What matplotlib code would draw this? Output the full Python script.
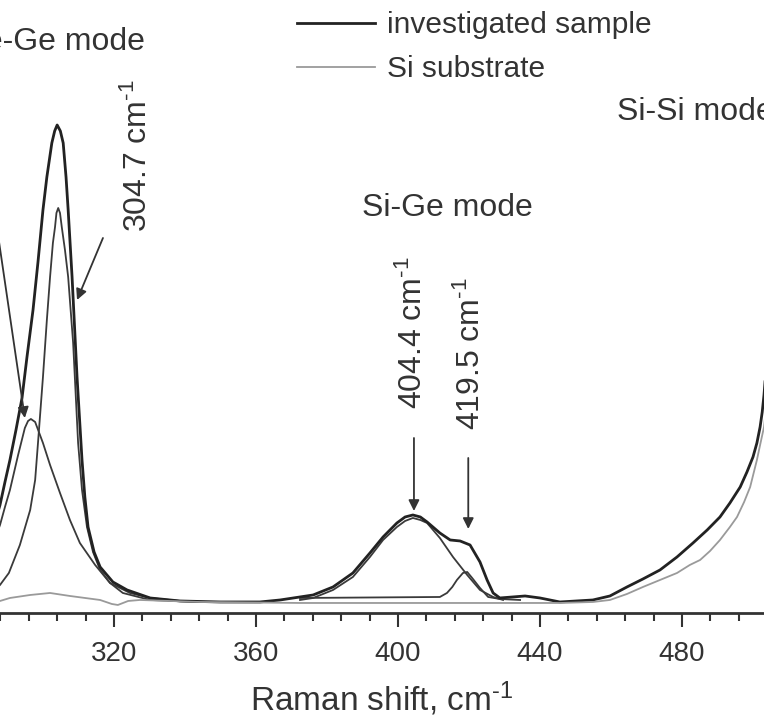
import matplotlib
matplotlib.use("Agg")
import matplotlib.pyplot as plt
from matplotlib.ticker import MultipleLocator

plt.rcParams['font.family'] = ['Liberation Sans', 'DejaVu Sans']
plt.rcParams['mathtext.fontset'] = 'custom'
plt.rcParams['mathtext.rm'] = 'Liberation Sans'
plt.rcParams['mathtext.it'] = 'Liberation Sans'
plt.rcParams['mathtext.bf'] = 'Liberation Sans'

# ---- data (Raman shift in cm^-1, intensity in a.u.) ----
sample_x = [286.0, 287.9, 289.3, 290.7, 292.4, 294.1, 295.5, 297.2, 298.6, 300.0, 301.1,
            302.5, 303.3, 304.0, 304.9, 305.7, 306.5, 307.1, 308.2, 309.6, 311.0,
            311.8, 312.7, 314.4, 316.1, 319.7, 323.7, 330.2, 338.6, 349.9, 361.1,
            366.8, 376.1, 381.7, 387.3, 392.1, 395.8, 399.7, 402.0, 404.2, 406.3, 408.2, 411.8,
            414.7, 417.5, 420.3, 423.1, 425.1, 426.8, 428.7, 435.8, 440.0, 445.6,
            454.9, 459.7, 464.5, 469.0, 473.8, 478.6, 483.1, 487.1, 490.7, 493.5,
            496.4, 498.3, 500.0, 501.1, 502.0, 502.6, 503.1, 504.0]
sample_y = [85, 108, 131, 153, 183, 215, 256, 303, 351, 403, 436,
            470, 482, 488, 482, 470, 436, 403, 336, 236, 153,
            116, 86, 61, 46, 31, 23, 15, 12, 11, 11,
            13, 18, 26, 40, 60, 76, 90, 96, 98, 96, 91, 80,
            73, 72, 68, 51, 33, 20, 15, 17, 15, 11,
            13, 17, 26, 34, 43, 56, 70, 83, 96, 110,
            126, 141, 156, 170, 186, 201, 218, 260]

substrate_x = [286.0, 287.9, 290.7, 296.4, 302.0, 307.6, 316.1, 319.4, 321.1, 324.0, 327.3,
               344.2, 372.4, 400.6, 428.7, 445.6, 454.9, 459.7, 464.5, 469.0, 473.8,
               478.6, 482.2, 485.1, 487.9, 490.7, 493.5, 495.5, 497.5, 499.2, 501.1,
               502.0, 503.1, 504.0]
substrate_y = [11, 12, 15, 18, 20, 17, 13, 9, 8, 12, 13,
               11, 10, 10, 10, 10, 11, 13, 19, 26, 33,
               40, 48, 53, 62, 73, 86, 96, 111, 126, 153,
               168, 186, 215]

peak3047_x = [286.0, 287.9, 290.4, 293.5, 296.4, 297.8, 298.6, 300.0, 301.1, 302.0,
              302.8, 303.4, 303.8, 304.3, 304.8, 305.3, 306.2, 307.1, 308.5, 309.9,
              311.0, 312.4, 314.1, 316.1, 318.9, 322.5, 330.2, 344.2]
peak3047_y = [22, 28, 40, 68, 103, 133, 170, 236, 293, 336,
              370, 386, 400, 405, 400, 386, 363, 336, 270, 170,
              123, 86, 61, 43, 30, 20, 13, 11]

peak297_x = [286.0, 287.9, 289.3, 290.7, 293.0, 294.9, 295.8, 296.6, 297.8, 300.0,
             302.0, 304.8, 307.6, 310.4, 314.7, 318.9, 324.5, 330.2, 338.6]
peak297_y = [70, 88, 106, 123, 158, 185, 192, 194, 191, 170,
             148, 120, 93, 70, 48, 30, 20, 15, 12]

peak4044_x = [372.4, 376.1, 381.7, 387.3, 392.1, 395.8, 399.7, 402.0, 404.2, 406.3, 408.2,
              411.8, 415.5, 419.5, 423.1, 426.8, 429.6]
peak4044_y = [13, 15, 23, 36, 56, 73, 86, 92, 95, 93, 90,
              75, 56, 38, 23, 16, 13]

peak4195_x = [372.4, 411.8, 413.8, 415.3, 416.6, 418.3, 419.5, 420.9, 423.1, 425.4, 428.7,
              434.4]
peak4195_y = [15, 16, 20, 26, 33, 40, 41, 35, 25, 16, 14, 13]

x_ticks = [320, 360, 400, 440, 480]

# ---- figure ----
fig = plt.figure(figsize=(7.64, 7.22), dpi=100)
ax = fig.add_axes([0.0, 0.151, 1.0, 0.849])
ax.set_xlim(287.9, 503.1)
ax.set_ylim(0, 613)

comp_kw = dict(color='#3a3a3a', lw=1.3, solid_joinstyle='round')
ax.plot(peak297_x, peak297_y, **comp_kw)
ax.plot(peak3047_x, peak3047_y, **comp_kw)
ax.plot(peak4044_x, peak4044_y, **comp_kw)
ax.plot(peak4195_x, peak4195_y, **comp_kw)
l1, = ax.plot(sample_x, sample_y, color='#222222', lw=2.0, label='investigated sample',
              solid_joinstyle='round')
l2, = ax.plot(substrate_x, substrate_y, color='#9a9a9a', lw=1.3, label='Si substrate')

# axes styling
for s in ['left', 'right', 'top']:
    ax.spines[s].set_visible(False)
ax.spines['bottom'].set_linewidth(2.0)
ax.spines['bottom'].set_color('#333333')
ax.set_yticks([])
ax.set_xticks(x_ticks)
ax.xaxis.set_minor_locator(MultipleLocator(8))
ax.tick_params(axis='x', which='major', direction='out', length=10, width=1.5,
               labelsize=20, colors='#333333', pad=10)
ax.tick_params(axis='x', which='minor', direction='out', length=5.5, width=1.5,
               colors='#333333')
unit = r'cm$^{\text{-}1}$'
ax.set_xlabel('Raman shift, ' + unit, fontsize=24, color='#333333', labelpad=9)

# annotations
txt_kw = dict(fontsize=23, color='#333333')
ax.text(328.7, 571, 'Ge-Ge mode', ha='right', va='center', **txt_kw)
ax.text(413.8, 405, 'Si-Ge mode', ha='center', va='center', **txt_kw)
ax.text(461.7, 501, 'Si-Si mode', ha='left', va='center', clip_on=False, **txt_kw)
ax.text(326.8, 457, '304.7 ' + unit, rotation=90, ha='center', va='center', **txt_kw)
ax.text(404.2, 280, '404.4 ' + unit, rotation=90, ha='center', va='center', **txt_kw)
ax.text(420.6, 259, '419.5 ' + unit, rotation=90, ha='center', va='center', **txt_kw)

arr = dict(arrowstyle='-|>', color='#333333', lw=1.3, mutation_scale=16,
           shrinkA=0, shrinkB=0)
ax.annotate('', xy=(309.6, 313), xytext=(316.9, 375), arrowprops=arr)
ax.annotate('', xy=(294.9, 195), xytext=(285.9, 413), arrowprops=arr,
            annotation_clip=False)
ax.annotate('', xy=(404.5, 102), xytext=(404.5, 175), arrowprops=arr)
ax.annotate('', xy=(419.8, 84), xytext=(419.8, 155), arrowprops=arr)

leg = ax.legend(handles=[l1, l2], loc='upper left',
                bbox_to_anchor=(297 / 764, 1 - 11 / 722), bbox_transform=fig.transFigure,
                frameon=False, fontsize=21.5, handlelength=2.6, handletextpad=0.4,
                labelspacing=0.55, borderpad=0, borderaxespad=0)
for t in leg.get_texts():
    t.set_color('#333333')

fig.savefig('out.png', dpi=100)
